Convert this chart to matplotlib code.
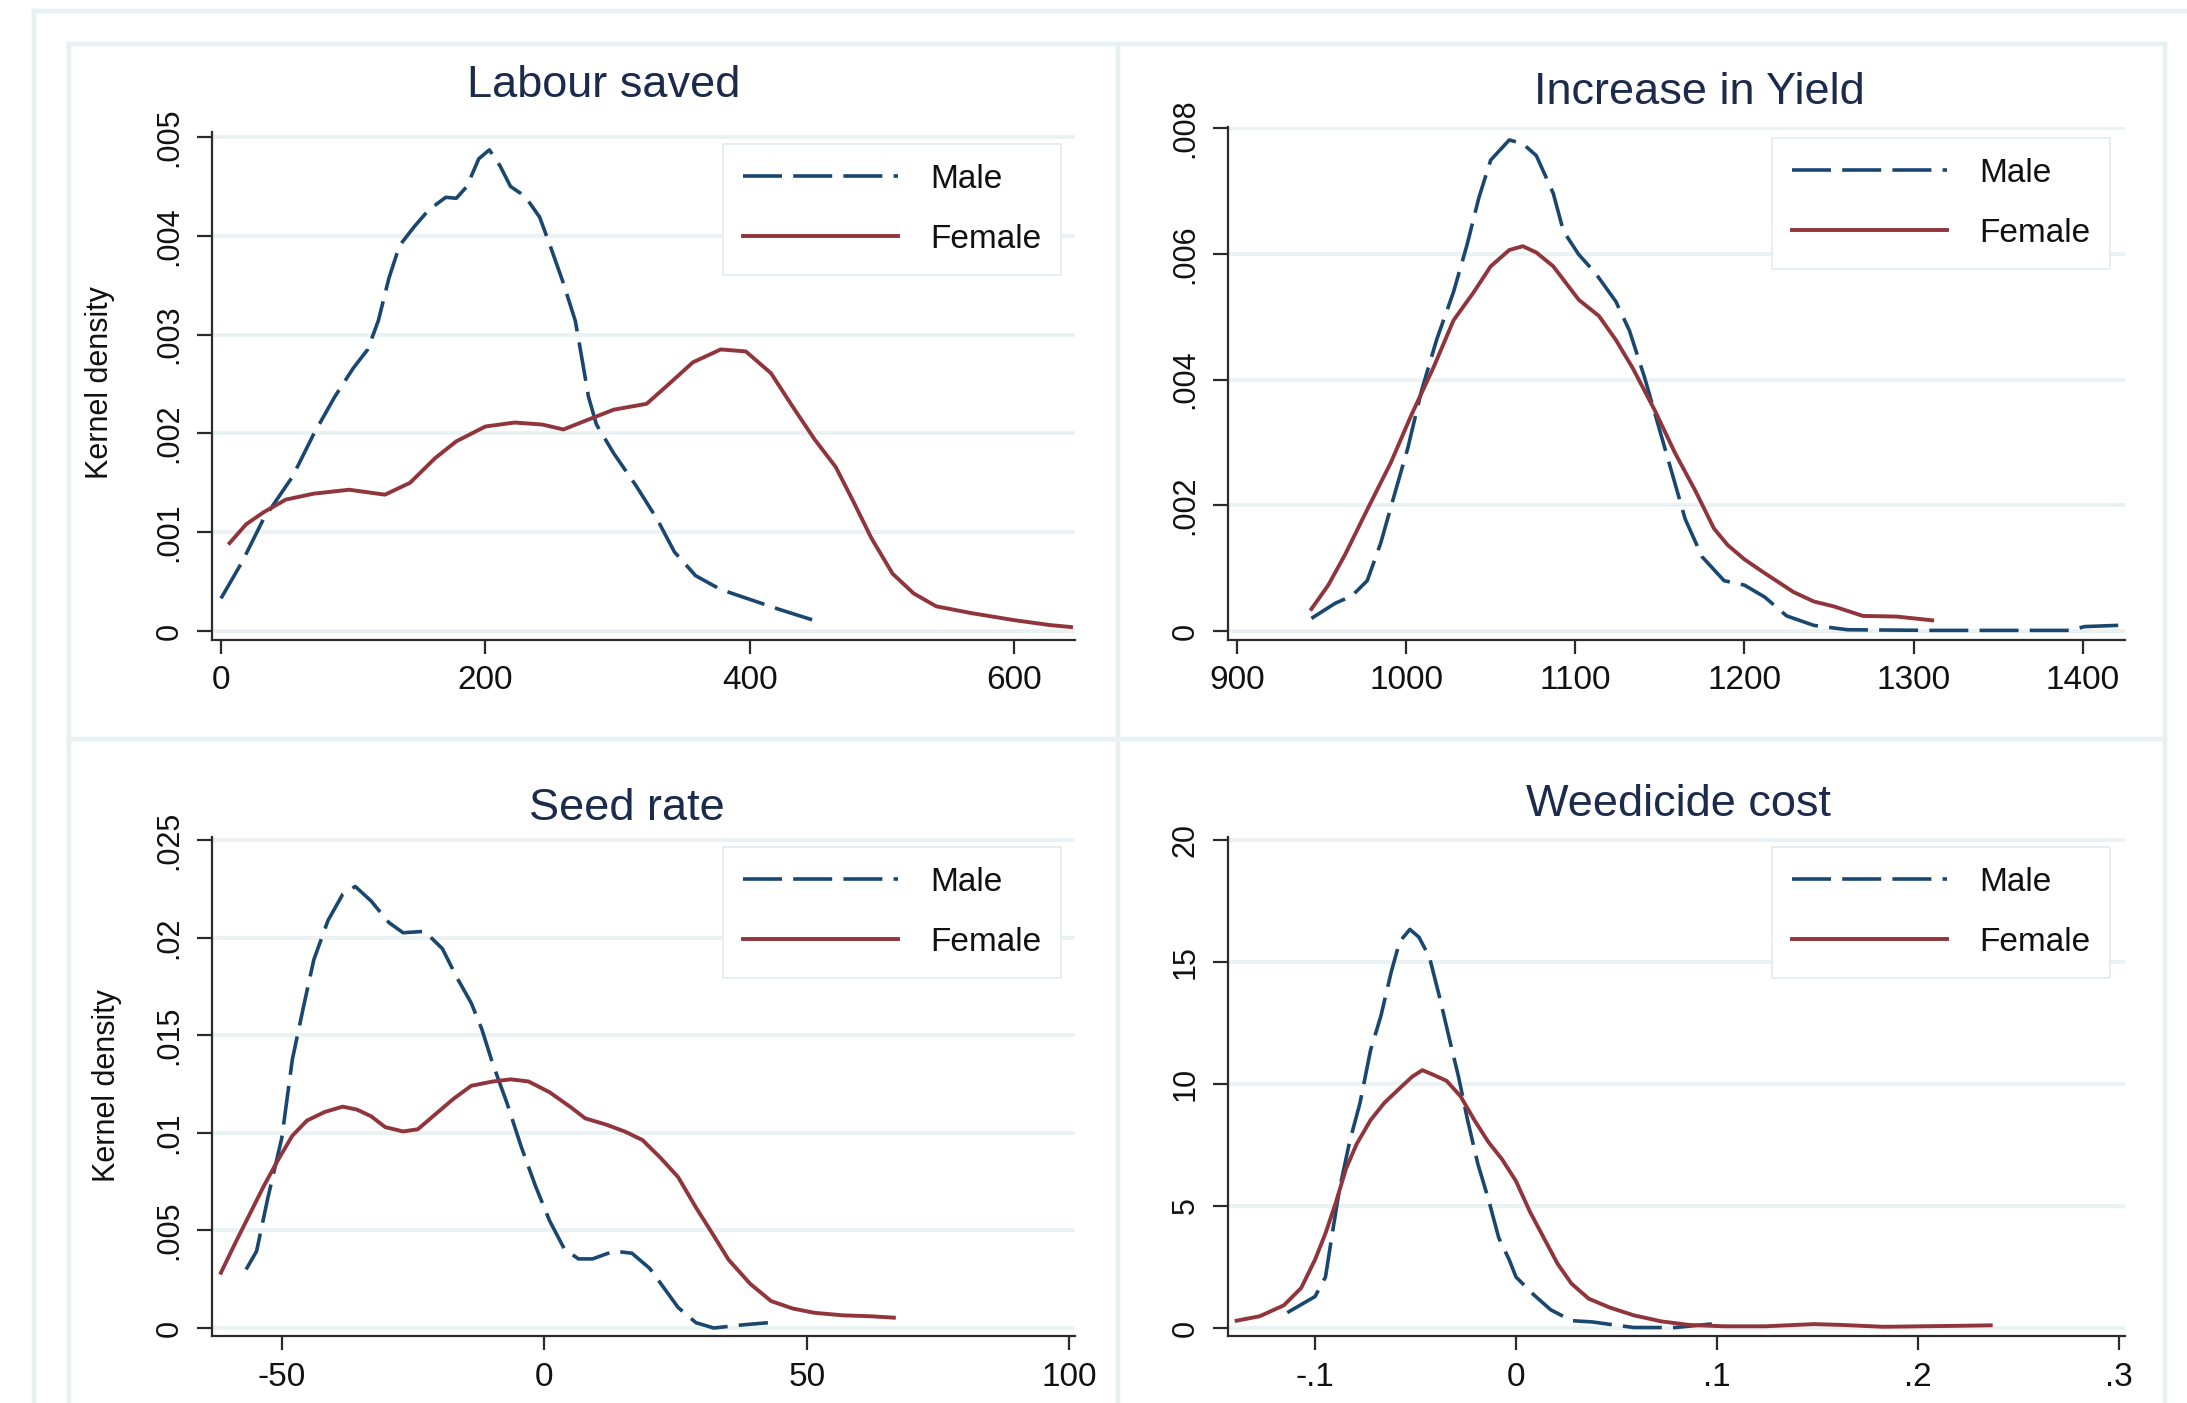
import matplotlib.pyplot as plt
from matplotlib.lines import Line2D

plt.rcParams['font.family'] = ['Liberation Sans', 'DejaVu Sans']

W, H = 2187, 1403

# Labour saved
labour_male_x = [0, 16, 32, 54, 70, 86, 100, 111, 119, 127, 135, 146, 157, 170, 178, 186, 195, 203,
                 211, 219, 230, 241, 249, 259, 268, 273, 278, 284, 297, 314, 330, 343, 359, 378,
                 400, 422, 448]
labour_male_y = [0.00033, 0.0007, 0.00113, 0.00156, 0.00199, 0.00237, 0.00266, 0.00285, 0.00314,
                 0.00357, 0.0039, 0.00409, 0.00426, 0.00439, 0.00438, 0.0045, 0.00478, 0.00487,
                 0.00471, 0.0045, 0.0044, 0.00419, 0.0039, 0.00352, 0.00314, 0.00276, 0.00237,
                 0.00209, 0.0018, 0.00147, 0.00113, 0.0008, 0.00056, 0.00042, 0.00032, 0.00022,
                 0.00011]
labour_female_x = [6.5, 19, 32, 49, 70, 97, 124, 143, 162, 178, 200, 222, 243, 259, 276, 297, 322,
                   338, 357, 378, 397, 416, 432, 449, 465, 478, 492, 508, 524, 541, 568, 600, 627, 643]
labour_female_y = [0.00089, 0.00108, 0.0012, 0.00133, 0.00139, 0.00143, 0.00138, 0.0015, 0.00175,
                   0.00192, 0.00207, 0.00211, 0.00209, 0.00204, 0.00213, 0.00224, 0.0023, 0.00249,
                   0.00272, 0.00285, 0.00283, 0.00261, 0.00228, 0.00194, 0.00166, 0.00132, 0.00094,
                   0.00058, 0.00038, 0.00025, 0.00018, 0.00011, 0.00006, 0.00004]

# Increase in Yield
yield_male_x = [944, 958, 968, 977, 985, 993, 1001, 1009, 1018, 1028, 1036, 1043, 1050, 1061, 1069,
                1077, 1087, 1093, 1102, 1112, 1124, 1132, 1141, 1149, 1157, 1165, 1175, 1188, 1200,
                1212, 1225, 1241, 1261, 1311, 1393, 1401, 1421]
yield_male_y = [0.0002, 0.00044, 0.00056, 0.0008, 0.0014, 0.00216, 0.00291, 0.00381, 0.00463,
                0.00539, 0.00614, 0.00689, 0.00749, 0.00781, 0.00775, 0.00756, 0.00696, 0.00636,
                0.00599, 0.00569, 0.00524, 0.00478, 0.00403, 0.00328, 0.00253, 0.00178, 0.00118,
                0.0008, 0.00073, 0.00054, 0.00024, 0.00009, 0.00002, 0.00001, 0.00001, 0.00007,
                0.00009]
yield_female_x = [944, 954, 964, 977, 991, 1003, 1016, 1028, 1040, 1050, 1061, 1069, 1077, 1087,
                  1102, 1114, 1124, 1134, 1147, 1159, 1171, 1182, 1190, 1200, 1212, 1229, 1241,
                  1253, 1270, 1290, 1311]
yield_female_y = [0.00035, 0.00073, 0.00122, 0.00193, 0.00268, 0.00343, 0.00418, 0.00494, 0.00539,
                  0.0058, 0.00606, 0.00612, 0.00602, 0.0058, 0.00527, 0.00501, 0.00463, 0.00418,
                  0.00351, 0.00283, 0.00223, 0.00163, 0.00137, 0.00114, 0.00092, 0.00062, 0.00047,
                  0.00039, 0.00024, 0.00023, 0.00017]

# Seed rate
seed_male_x = [-56.8, -54.8, -52.7, -50, -48, -45.9, -43.9, -41.2, -38.4, -36, -33, -29.6, -26.9,
               -22.8, -19.4, -16.7, -13.9, -11.9, -9.8, -7.1, -4.4, -1.7, 1, 3.8, 6.5, 9.2, 13.3,
               16.7, 20.1, 22.8, 25.5, 28.9, 32.3, 37.8, 42.6]
seed_male_y = [0.003, 0.00394, 0.00662, 0.00974, 0.01375, 0.01642, 0.01887, 0.02088, 0.02222,
               0.02262, 0.02188, 0.02077, 0.02025, 0.02032, 0.01943, 0.01798, 0.01664, 0.01531,
               0.01352, 0.01152, 0.00929, 0.00729, 0.0055, 0.00406, 0.00354, 0.00354, 0.00394,
               0.00383, 0.00305, 0.00205, 0.00105, 0.00027, 0.0, 0.00016, 0.00027]
seed_female_x = [-61.6, -58.8, -56.1, -53.4, -50.7, -48, -45.2, -41.8, -38.4, -35.7, -33, -30.3,
                 -26.9, -24.1, -20.7, -17.3, -13.9, -9.8, -6.4, -3, 1, 5.1, 7.8, 11.9, 15.3, 18.7,
                 22.1, 25.5, 28.9, 32.3, 35.1, 39.2, 43.2, 47.3, 51.4, 56.8, 62.3, 66.6]
seed_female_y = [0.00283, 0.00439, 0.00584, 0.00729, 0.00862, 0.00985, 0.01063, 0.01107, 0.01134,
                 0.01119, 0.01085, 0.01029, 0.01007, 0.01018, 0.01096, 0.01174, 0.01241, 0.01263,
                 0.01274, 0.01263, 0.01208, 0.0113, 0.01074, 0.01041, 0.01007, 0.00963, 0.00873,
                 0.00773, 0.00617, 0.00472, 0.0035, 0.00227, 0.00138, 0.001, 0.00078, 0.00065,
                 0.0006, 0.00053]

# Weedicide cost
weed_male_x = [-0.1138, -0.1, -0.0948, -0.0914, -0.0879, -0.0828, -0.0776, -0.0724, -0.0672,
               -0.0621, -0.0579, -0.0528, -0.0483, -0.0431, -0.0379, -0.0328, -0.0286, -0.0241,
               -0.019, -0.0138, -0.0086, -0.0034, 0.0, 0.0086, 0.0172, 0.0276, 0.0379, 0.0483,
               0.0586, 0.0793, 0.0966, 0.1]
weed_male_y = [0.63, 1.29, 2.09, 3.88, 5.66, 7.63, 9.23, 11.38, 12.8, 14.59, 15.84, 16.34, 16.02,
               15.21, 13.52, 11.73, 10.3, 8.52, 6.73, 5.3, 3.7, 2.8, 2.09, 1.38, 0.75, 0.3, 0.25,
               0.13, 0.02, 0.02, 0.16, 0.09]
weed_female_x = [-0.139, -0.1276, -0.1155, -0.1069, -0.1, -0.0948, -0.0897, -0.0845, -0.0793,
                 -0.0724, -0.0655, -0.0586, -0.0517, -0.0466, -0.0414, -0.0345, -0.0276, -0.0207,
                 -0.0138, -0.0069, 0.0, 0.0069, 0.0138, 0.0207, 0.0276, 0.0362, 0.0466, 0.0586,
                 0.0724, 0.0862, 0.1034, 0.1241, 0.1483, 0.1621, 0.1828, 0.2207, 0.2362]
weed_female_y = [0.3, 0.48, 0.93, 1.64, 2.8, 3.88, 5.13, 6.55, 7.54, 8.52, 9.23, 9.77, 10.3, 10.57,
                 10.39, 10.13, 9.5, 8.52, 7.63, 6.91, 6.02, 4.77, 3.7, 2.63, 1.82, 1.2, 0.84, 0.52,
                 0.27, 0.125, 0.07, 0.07, 0.16, 0.125, 0.05, 0.09, 0.11]

titles = ["Labour saved", "Increase in Yield", "Seed rate", "Weedicide cost"]

labour_xticks = [0, 200, 400, 600]
labour_yticks = [0, 0.001, 0.002, 0.003, 0.004, 0.005]
labour_yticklabels = ["0", ".001", ".002", ".003", ".004", ".005"]
yield_xticks = [900, 1000, 1100, 1200, 1300, 1400]
yield_yticks = [0, 0.002, 0.004, 0.006, 0.008]
yield_yticklabels = ["0", ".002", ".004", ".006", ".008"]
seed_xticks = [-50, 0, 50, 100]
seed_yticks = [0, 0.005, 0.01, 0.015, 0.02, 0.025]
seed_yticklabels = ["0", ".005", ".01", ".015", ".02", ".025"]
weed_xticks = [-0.1, 0, 0.1, 0.2, 0.3]
weed_xticklabels = ["-.1", "0", ".1", ".2", ".3"]
weed_yticks = [0, 5, 10, 15, 20]
weed_yticklabels = ["0", "5", "10", "15", "20"]

male_color = '#1a476f'
female_color = '#90353b'
grid_color = '#eaf2f3'
frame_color = '#e8f0f1'
title_color = '#1c2a4c'


def px_rect(left, top, right, bottom):
    return [left / W, 1 - bottom / H, (right - left) / W, (bottom - top) / H]


def fig_line(x0, y0, x1, y1):
    fig.add_artist(Line2D([x0 / W, x1 / W], [1 - y0 / H, 1 - y1 / H],
                          transform=fig.transFigure, color=frame_color, lw=3.2))


fig = plt.figure(figsize=(W / 100, H / 100), dpi=100)

# outer frame and panel frames
fig_line(34, 11, W, 11)
fig_line(34, 11, 34, H)
fig_line(69, 44, 2165, 44)
fig_line(69, 739, 2165, 739)
fig_line(69, 44, 69, H)
fig_line(1118, 44, 1118, H)
fig_line(2165, 44, 2165, H)

panels = [
    dict(rect=px_rect(212, 132, 1075, 639.5), xlim=(-6.8, 646), ylim=(-0.000086, 0.005051),
         xticks=labour_xticks, xticklabels=[str(v) for v in labour_xticks],
         yticks=labour_yticks, yticklabels=labour_yticklabels,
         male=(labour_male_x, labour_male_y), female=(labour_female_x, labour_female_y),
         title_xy=(604, 97), leg=(0.9838, 0.9764), ylab=(100, 383)),
    dict(rect=px_rect(1228, 126.5, 2125, 639.5), xlim=(894.7, 1425), ylim=(-0.000135, 0.008024),
         xticks=yield_xticks, xticklabels=[str(v) for v in yield_xticks],
         yticks=yield_yticks, yticklabels=yield_yticklabels,
         male=(yield_male_x, yield_male_y), female=(yield_female_x, yield_female_y),
         title_xy=(1699, 103.5), leg=(0.9833, 0.9776), ylab=None),
    dict(rect=px_rect(212, 836.7, 1075, 1336), xlim=(-63.3, 101.1), ylim=(-0.00041, 0.02517),
         xticks=seed_xticks, xticklabels=[str(v) for v in seed_xticks],
         yticks=seed_yticks, yticklabels=seed_yticklabels,
         male=(seed_male_x, seed_male_y), female=(seed_female_x, seed_female_y),
         title_xy=(627, 820.5), leg=(0.9838, 0.9794), ylab=(107, 1086)),
    dict(rect=px_rect(1228, 836.7, 2125, 1336), xlim=(-0.1433, 0.303), ylim=(-0.328, 20.14),
         xticks=weed_xticks, xticklabels=weed_xticklabels,
         yticks=weed_yticks, yticklabels=weed_yticklabels,
         male=(weed_male_x, weed_male_y), female=(weed_female_x, weed_female_y),
         title_xy=(1679, 816.5), leg=(0.9833, 0.9794), ylab=None),
]

for title, p in zip(titles, panels):
    ax = fig.add_axes(p['rect'])
    ax.plot(p['male'][0], p['male'][1], color=male_color, lw=2.6,
            linestyle=(0, (10.8, 3.1)), label="Male")
    ax.plot(p['female'][0], p['female'][1], color=female_color, lw=2.8, label="Female")
    ax.set_xlim(p['xlim'])
    ax.set_ylim(p['ylim'])
    ax.set_xticks(p['xticks'])
    ax.set_xticklabels(p['xticklabels'])
    ax.set_yticks(p['yticks'])
    ax.set_yticklabels(p['yticklabels'], rotation=90, va='center')
    ax.yaxis.grid(True, color=grid_color, lw=2.8)
    ax.set_axisbelow(True)
    for side in ['top', 'right']:
        ax.spines[side].set_visible(False)
    for side in ['left', 'bottom']:
        ax.spines[side].set_linewidth(1.6)
        ax.spines[side].set_color('#2b2b2b')
    ax.tick_params(axis='x', length=10, width=1.6, pad=8.5, labelsize=24,
                   color='#2b2b2b', labelcolor='#111111')
    ax.tick_params(axis='y', length=10.8, width=1.6, pad=9, labelsize=22,
                   color='#2b2b2b', labelcolor='#111111')
    leg = ax.legend(loc='upper right', bbox_to_anchor=p['leg'], borderaxespad=0,
                    fontsize=24, handlelength=4.65, handletextpad=0.96, labelspacing=0.86,
                    borderpad=0.6, fancybox=False, edgecolor='#e3ebed', framealpha=1)
    leg.get_frame().set_linewidth(1.2)
    for t in leg.get_texts():
        t.set_color('#111111')
    fig.text(p['title_xy'][0] / W, 1 - p['title_xy'][1] / H, title, ha='center',
             va='baseline', fontsize=32.5, color=title_color)
    if p['ylab'] is not None:
        fig.text(p['ylab'][0] / W, 1 - p['ylab'][1] / H, "Kernel density", rotation=90,
                 ha='center', va='center', fontsize=22, color='#111111')

fig.savefig("out.png", dpi=100)
